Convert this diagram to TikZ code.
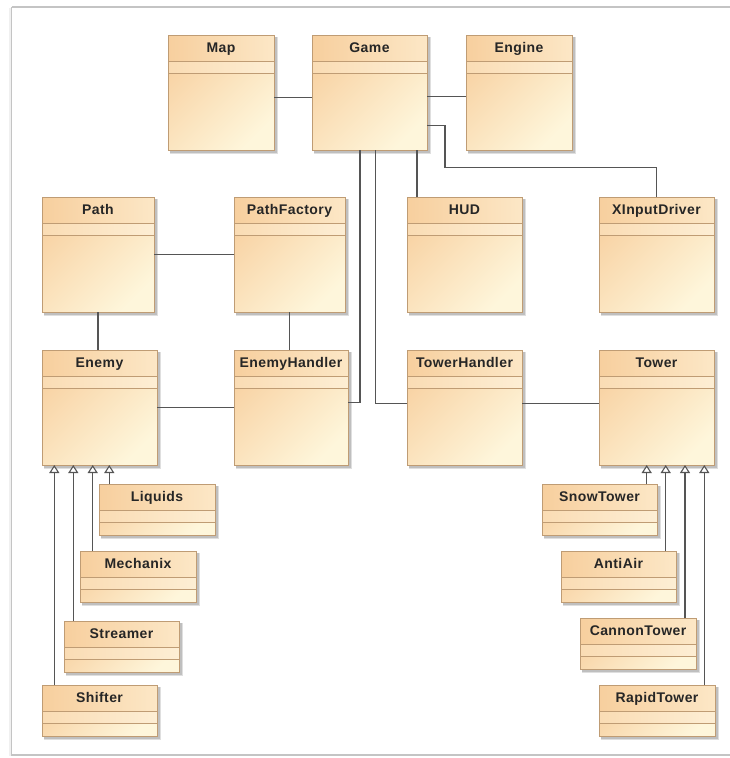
\documentclass[tikz,border=0pt]{standalone}
\usepackage{fontspec}
\newfontfamily\clsfont[LetterSpace=3]{Liberation Sans}
\usetikzlibrary{arrows.meta}
\definecolor{bordc}{HTML}{BF9C74}
\definecolor{bodyA}{HTML}{F8D2A3}
\definecolor{bodyB}{HTML}{FEF6DB}
\definecolor{hdrA}{HTML}{F7CF9E}
\definecolor{hdrB}{HTML}{FCE7C6}
\definecolor{midA}{HTML}{FADCB4}
\definecolor{midB}{HTML}{FDEED4}
\definecolor{linec}{HTML}{555555}
\definecolor{txtc}{HTML}{262626}
\definecolor{framec}{HTML}{C4C4C4}
\tikzset{
  clsbody/.style={draw=bordc, line width=1pt, inner sep=0pt, outer sep=0pt,
    top color=bodyA, bottom color=bodyB, shading angle=45},
  clsline/.style={draw=bordc, line width=1pt},
  lbl/.style={font=\clsfont\bfseries\fontsize{14}{15}\selectfont, text=txtc,
    inner sep=0pt, text height=10pt, text depth=3pt},
  assoc/.style={draw=linec, line width=1.2pt},
  gen/.style={draw=linec, line width=1.1pt, -{Triangle[length=8pt,width=10pt,fill=white]}},
}
\newcommand{\umlcls}[6]{%
  \fill[gray!25] (#2+1.5,#3+1.5) rectangle (#2+#4+4.2,#3+#5+4.2);
  \fill[gray!50] (#2+2,#3+2) rectangle (#2+#4+3,#3+#5+3);
  \node[clsbody, anchor=north west, minimum width=#4pt, minimum height=#5pt] (#1) at (#2,#3) {};
  \shade[left color=hdrA, right color=hdrB] (#2,#3) rectangle (#2+#4,#3+26);
  \shade[left color=midA, right color=midB] (#2,#3+26) rectangle (#2+#4,#3+38);
  \draw[clsline] (#1.north west) rectangle (#1.south east);
  \draw[clsline] ([yshift=-26pt]#1.north west) -- ([yshift=-26pt]#1.north east);
  \draw[clsline] ([yshift=-38pt]#1.north west) -- ([yshift=-38pt]#1.north east);
  \node[lbl] (#1-label) at ([yshift=-13.5pt]#1.north) {#6};
}
\begin{document}
\begin{tikzpicture}[x=1pt,y=-1pt]
\useasboundingbox (0,0) rectangle (730,758);
\fill[white] (0,0) rectangle (730,758);
% frame
\fill[gray!12] (8.5,8) rectangle (11.5,756);
\draw[framec, line width=1.2pt] (11.5,7) -- (730,7);
\draw[framec, line width=1.2pt] (11.5,7) -- (11.5,755) -- (730,755);
% classes
\umlcls{map}{168}{35}{106}{115}{Map}
\umlcls{game}{312}{35}{115}{115}{Game}
\umlcls{engine}{466}{35}{106}{115}{Engine}
\umlcls{path}{42}{197}{112}{115}{Path}
\umlcls{pathfactory}{234}{197}{111}{115}{PathFactory}
\umlcls{hud}{407}{197}{115}{115}{HUD}
\umlcls{xinput}{599}{197}{115}{115}{XInputDriver}
\umlcls{enemy}{42}{350}{115}{115}{Enemy}
\umlcls{enemyhandler}{234}{350}{114}{115}{EnemyHandler}
\umlcls{towerhandler}{407}{350}{115}{115}{TowerHandler}
\umlcls{tower}{599}{350}{115}{115}{Tower}
\umlcls{liquids}{99}{484}{116}{51}{Liquids}
\umlcls{mechanix}{80}{551}{116}{51}{Mechanix}
\umlcls{streamer}{64}{621}{115}{51}{Streamer}
\umlcls{shifter}{42}{685}{115}{51}{Shifter}
\umlcls{snowtower}{542}{484}{115}{51}{SnowTower}
\umlcls{antiair}{561}{551}{115}{51}{AntiAir}
\umlcls{cannontower}{580}{618}{116}{51}{CannonTower}
\umlcls{rapidtower}{599}{685}{116}{51}{RapidTower}
% associations
\draw[assoc] ([yshift=-5pt]map.east) -- ([yshift=-5pt]map.east -| game.west);
\draw[assoc] ([yshift=-4pt]game.east) -- ([yshift=-4pt]game.east -| engine.west);
\draw[assoc] ([yshift=-33pt]game.east) -- ++(18,0) -- ++(0,42) -| (xinput.north);
\draw[assoc] ([xshift=10pt]hud.north west) -- ([xshift=10pt]hud.north west |- game.south);
\draw[assoc] ([yshift=5pt]enemyhandler.east) -| ([xshift=-9.5pt]game.south);
\draw[assoc] ([yshift=4pt]towerhandler.west) -| ([xshift=6pt]game.south);
\draw[assoc] (path.east) -- (path.east -| pathfactory.west);
\draw[assoc] (path.south) -- (path.south |- enemy.north);
\draw[assoc] (pathfactory.south) -- (pathfactory.south |- enemyhandler.north);
\draw[assoc] (enemy.east) -- (enemyhandler.west);
\draw[assoc] ([yshift=4pt]towerhandler.east) -- ([yshift=4pt]towerhandler.east -| tower.west);
% generalizations
\draw[gen] ([xshift=10.3pt]liquids.north west) -- ([xshift=10.3pt]liquids.north west |- enemy.south);
\draw[gen] ([xshift=12.7pt]mechanix.north west) -- ([xshift=12.7pt]mechanix.north west |- enemy.south);
\draw[gen] ([xshift=9.3pt]streamer.north west) -- ([xshift=9.3pt]streamer.north west |- enemy.south);
\draw[gen] ([xshift=12.3pt]shifter.north west) -- ([xshift=12.3pt]shifter.north west |- enemy.south);
\draw[gen] ([xshift=-10.3pt]snowtower.north east) -- ([xshift=-10.3pt]snowtower.north east |- tower.south);
\draw[gen] ([xshift=-10.3pt]antiair.north east) -- ([xshift=-10.3pt]antiair.north east |- tower.south);
\draw[gen] ([xshift=-11pt]cannontower.north east) -- ([xshift=-11pt]cannontower.north east |- tower.south);
\draw[gen] ([xshift=-10.7pt]rapidtower.north east) -- ([xshift=-10.7pt]rapidtower.north east |- tower.south);
\end{tikzpicture}
\end{document}
